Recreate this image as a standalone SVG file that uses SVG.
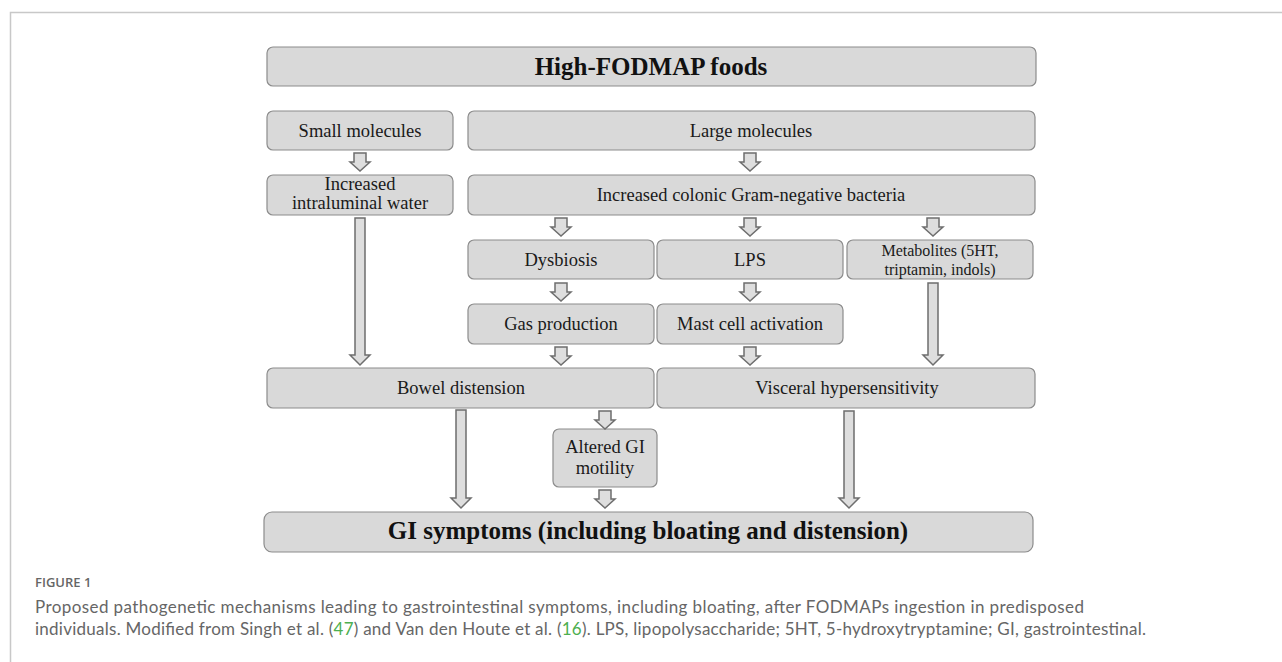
<svg xmlns="http://www.w3.org/2000/svg" xmlns:xlink="http://www.w3.org/1999/xlink" width="1282" height="662" viewBox="0 0 1282 662">
<style>
.box{fill:#d9d9d9;stroke:#8c8c8c;stroke-width:1.2}
.t{font-family:"Liberation Serif",serif;font-size:18.5px;fill:#1a1a1a;text-anchor:middle}
.ts{font-family:"Liberation Serif",serif;font-size:16px;fill:#1a1a1a;text-anchor:middle}
.tb{font-family:"Liberation Serif",serif;font-weight:bold;fill:#111;text-anchor:middle}
.arr{fill:#dedede;stroke:#6e6e6e;stroke-width:1.5;stroke-linejoin:miter}
.cap{font-family:Lato,"Open Sans",sans-serif;font-size:17px;fill:#666}
.fig{font-family:"Open Sans",sans-serif;font-size:13px;font-weight:600;fill:#666}
.grn{fill:#4caf50}
</style>
<defs>
<path id="sa" d="M-6,0 H6 V9 H10 L0,18 L-10,9 H-6 Z"/>
</defs>
<rect width="1282" height="662" fill="#fff"/>
<path d="M10.5,662 V12.5 H1282" fill="none" stroke="#c8c8c8" stroke-width="1.5"/>

<g id="n-high"><rect class="box" x="267" y="47" width="769" height="39" rx="6"/><text class="tb" x="651" y="75" font-size="25">High-FODMAP foods</text></g>
<g id="n-small"><rect class="box" x="267" y="111" width="186" height="39" rx="6"/><text class="t" x="360" y="137">Small molecules</text></g>
<g id="n-large"><rect class="box" x="468" y="111" width="567" height="39" rx="6"/><text class="t" x="751" y="137">Large molecules</text></g>
<g id="n-water"><rect class="box" x="267" y="175" width="186" height="40" rx="6"/><text class="t" x="360" y="190">Increased</text><text class="t" x="360" y="209">intraluminal water</text></g>
<g id="n-bact"><rect class="box" x="468" y="175" width="567" height="40" rx="6"/><text class="t" x="751" y="201">Increased colonic Gram-negative bacteria</text></g>
<g id="n-dys"><rect class="box" x="468" y="240" width="186" height="39" rx="6"/><text class="t" x="561" y="266">Dysbiosis</text></g>
<g id="n-lps"><rect class="box" x="657" y="240" width="186" height="39" rx="6"/><text class="t" x="750" y="266">LPS</text></g>
<g id="n-met"><rect class="box" x="847" y="240" width="186" height="39" rx="6"/><text class="ts" x="940" y="256">Metabolites (5HT,</text><text class="ts" x="940" y="275">triptamin, indols)</text></g>
<g id="n-gas"><rect class="box" x="468" y="304" width="186" height="40" rx="6"/><text class="t" x="561" y="330">Gas production</text></g>
<g id="n-mast"><rect class="box" x="657" y="304" width="186" height="40" rx="6"/><text class="t" x="750" y="330">Mast cell activation</text></g>
<g id="n-bowel"><rect class="box" x="267" y="368" width="387" height="40" rx="6"/><text class="t" x="461" y="394">Bowel distension</text></g>
<g id="n-visc"><rect class="box" x="657" y="368" width="378" height="40" rx="6"/><text class="t" x="847" y="394">Visceral hypersensitivity</text></g>
<g id="n-motil"><rect class="box" x="553" y="429" width="104" height="58" rx="6"/><text class="t" x="605" y="453">Altered GI</text><text class="t" x="605" y="474">motility</text></g>
<g id="n-gi"><rect class="box" x="264" y="512" width="769" height="40" rx="8"/><text class="tb" x="648" y="539" font-size="25">GI symptoms (including bloating and distension)</text></g>

<g id="connectors">
<use href="#sa" class="arr" x="360" y="153"/>
<use href="#sa" class="arr" x="750" y="153"/>
<use href="#sa" class="arr" x="561" y="218"/>
<use href="#sa" class="arr" x="750" y="218"/>
<use href="#sa" class="arr" x="933" y="218"/>
<use href="#sa" class="arr" x="561" y="283"/>
<use href="#sa" class="arr" x="750" y="283"/>
<use href="#sa" class="arr" x="561" y="347"/>
<use href="#sa" class="arr" x="750" y="347"/>
<use href="#sa" class="arr" x="605" y="411"/>
<use href="#sa" class="arr" x="605" y="490"/>
<path class="arr" d="M355,218 H365 V355 H370 L360,365 L350,355 H355 Z"/>
<path class="arr" d="M928,283 H938 V355 H943 L933,365 L923,355 H928 Z"/>
<path class="arr" d="M456,410 H466 V498 H471 L461,508 L451,498 H456 Z"/>
<path class="arr" d="M844,411 H854 V498 H859 L849,508 L839,498 H844 Z"/>
</g>

<g id="caption">
<text class="fig" x="35" y="587">FIGURE 1</text>
<text class="cap" x="35" y="613" textLength="1049" lengthAdjust="spacing">Proposed pathogenetic mechanisms leading to gastrointestinal symptoms, including bloating, after FODMAPs ingestion in predisposed</text>
<text class="cap" x="35" y="635" textLength="1111" lengthAdjust="spacing">individuals. Modified from Singh et al. (<tspan class="grn">47</tspan>) and Van den Houte et al. (<tspan class="grn">16</tspan>). LPS, lipopolysaccharide; 5HT, 5-hydroxytryptamine; GI, gastrointestinal.</text>
</g>
</svg>
